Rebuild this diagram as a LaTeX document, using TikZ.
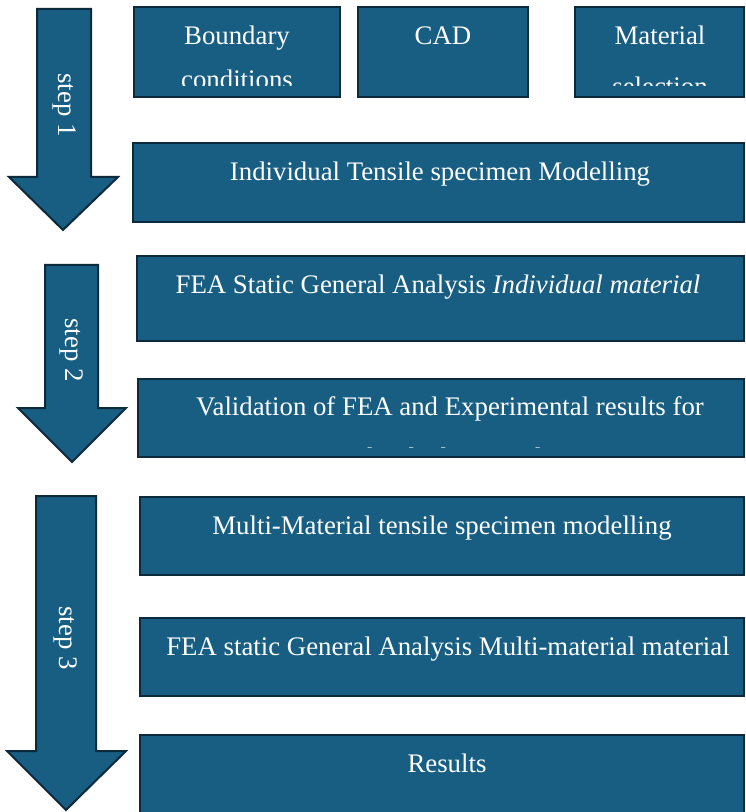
\documentclass[tikz,border=0pt]{standalone}
\usepackage{fontspec}
\setmainfont{Liberation Serif}
\definecolor{stepblue}{RGB}{23,94,130}
\definecolor{stepedge}{RGB}{13,42,60}
\begin{document}
\begin{tikzpicture}[x=0.75pt,y=-0.75pt]
	\tikzstyle{stepbox}=[fill=stepblue,draw=stepedge,line width=1.5pt]
	\tikzstyle{steparrow}=[fill=stepblue,draw=stepedge,line width=1.5pt,line join=miter]
	\tikzstyle{boxtext}=[text=white,font=\fontsize{20.1}{24}\selectfont,anchor=base,inner sep=0pt]
	\tikzstyle{steplabel}=[text=white,font=\fontsize{20.1}{24}\selectfont,rotate=-90,inner sep=0pt]
	\useasboundingbox (0,0) rectangle (745,812);
	% step arrows
	\draw[steparrow] (37,9) -- (91,9) -- (91,177) -- (118,177) -- (63,230) -- (9,177) -- (37,177) -- cycle;
	\draw[steparrow] (45,265) -- (98,265) -- (98,408) -- (126,408) -- (72,462) -- (18,408) -- (45,408) -- cycle;
	\draw[steparrow] (36,496) -- (96,496) -- (96,751) -- (126,751) -- (66,810) -- (7,751) -- (36,751) -- cycle;
	\node[steplabel] (step-1) at (64,105) {step 1};
	\node[steplabel] (step-2) at (72,350) {step 2};
	\node[steplabel] (step-3) at (66,638) {step 3};
	% step 1 boxes
	\draw[stepbox] (134,7) rectangle (340,97);
	\draw[stepbox] (358,7) rectangle (528,97);
	\draw[stepbox] (575,7) rectangle (744,97);
	\draw[stepbox] (133,143) rectangle (744,222);
	\node[boxtext] (bound) at (237,45) {Boundary};
	\node[boxtext] (cad) at (443,45) {CAD};
	\node[boxtext] (mat) at (660,45) {Material};
	\begin{scope}
		\clip (134,7) rectangle (340,86);
		\node[boxtext] (bound-2) at (237,89) {conditions};
	\end{scope}
	\begin{scope}
		\clip (575,7) rectangle (744,86);
		\node[boxtext] (mat-2) at (660,96) {selection};
	\end{scope}
	\node[boxtext] (tensile) at (440,181) {Individual Tensile specimen Modelling};
	% step 2 boxes
	\draw[stepbox] (137,256) rectangle (744,341);
	\draw[stepbox] (138,379) rectangle (744,457);
	\node[boxtext] (fea-ind) at (438,294) {FEA Static General Analysis \textit{Individual material}};
	\node[boxtext] (valid) at (450,415) {Validation of FEA and Experimental results for};
	\begin{scope}
		\clip (138,379) rectangle (744,447);
		\node[boxtext] (valid-2) at (441,466) {individual material};
	\end{scope}
	% step 3 boxes
	\draw[stepbox] (140,497) rectangle (744,575);
	\draw[stepbox] (140,618) rectangle (744,696);
	\draw[stepbox] (140,735) rectangle (744,816);
	\node[boxtext] (multi) at (442,534) {Multi-Material tensile specimen modelling};
	\node[boxtext] (fea-multi) at (448,655) {FEA static General Analysis Multi-material material};
	\node[boxtext] (results) at (447,772) {Results};
\end{tikzpicture}
\end{document}
